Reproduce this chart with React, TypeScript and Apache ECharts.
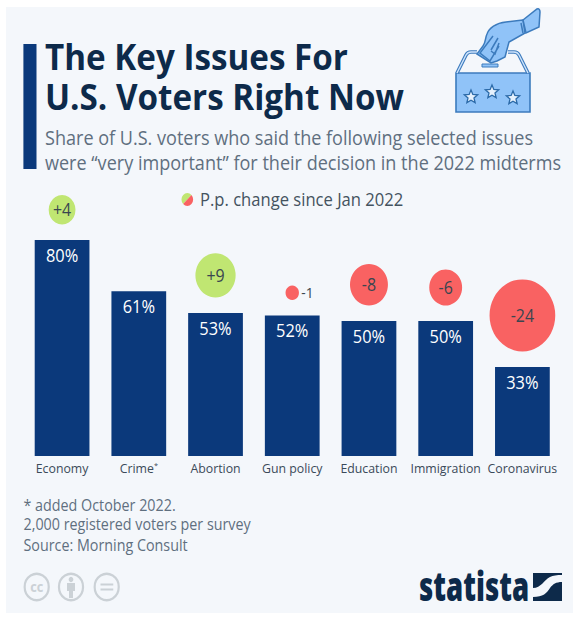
import React, { useEffect, useRef } from "react";
import * as echarts from "echarts";

// Survey shares and percentage-point changes per issue
const categories = ["Economy", "Crime*", "Abortion", "Gun policy", "Education", "Immigration", "Coronavirus"];
const shares = [80, 61, 53, 52, 50, 50, 33];
const changes = [4, null, 9, -1, -8, -6, -24];

const titleLines = ["The Key Issues For", "U.S. Voters Right Now"];
const subtitleLines = [
  "Share of U.S. voters who said the following selected issues",
  "were \u201cvery important\u201d for their decision in the 2022 midterms",
];
const legendLabel = "P.p. change since Jan 2022";
const footerLines = ["* added October 2022.", "2,000 registered voters per survey", "Source: Morning Consult"];

// The canvas is laid out wider than the window and narrowed with a CSS transform
const SQUEEZE = 0.9124;
const CANVAS_WIDTH = 628;
const CANVAS_HEIGHT = 617;
const sx = (x: number) => x / SQUEEZE;

const NAVY = "#0b397b";
const INK = "#0d2a4a";
const GREY = "#5f6f7f";
const GREEN = "#c0e672";
const RED = "#f96262";
const PANEL = "#f4f7fb";
const ICON_FILL = "#90c3f8";
const ICON_LINE = "#3c7bbd";
const FONT = "'Open Sans', sans-serif";

const bubbleDiameter = (change: number) => 14.7 * Math.sqrt(Math.abs(change));
const BUBBLE_GAP = 15.5;

const shapes: Record<string, string> = {
  voteHand: "M523 20 L506 22 C496 23 489 28 487 34 C485 38 486 42 483 46 L477 54 L491 63 L497 61 L505 57 L509 42 L525 33 Z",
  voteCuff: "M523 20 L537 9 C539 8 540 10 540 12 L539 27 L526 33 Z",
  voteFolds: "M521 23 L523 33 M493 36 L480 53 L490 61 L499 46 M491 51 L495 54 L499 43 M498 38 L491 50",
  voteFlaps: "M457 73 L466 55 C467 53 468 52 471 52 L477 52 M528 73 L519 55 C518 53 517 52 514 52 L508 52",
  voteBox: "M456 73 L530 73 L530 112 L456 112 Z",
  voteSlot: "M482 64 L498 64 L498 67 L482 67 Z",
  logoGap: "M533 588 C541 588 544 580 550 577 C553 575.5 557 575 562 575 L562 582 C556 582 553 584 550 588 C547 593 543 597 533 597 Z",
  ccPerson: "M67 583 L75 583 L75 591 L73 591 L73 598 L69 598 L69 591 L67 591 Z",
};
Object.entries(shapes).forEach(([name, d]) => {
  echarts.graphic.registerShape(name, echarts.graphic.extendPath(d, {}) as any);
});

const starPoints = (cx: number, cy: number, r: number) => {
  const pts: number[][] = [];
  for (let i = 0; i < 10; i++) {
    const radius = i % 2 === 0 ? r : r * 0.45;
    const a = -Math.PI / 2 + (i * Math.PI) / 5;
    pts.push([cx + radius * Math.cos(a), cy + radius * Math.sin(a)]);
  }
  return pts;
};

// Places a text by its baseline: the renderer anchors "middle" on the central baseline
const textEl = (x: number, baseline: number, text: string, fontSize: number, fill: string, fontWeight: any = 400) => ({
  type: "text",
  x: sx(x),
  y: baseline - 0.388 * fontSize,
  silent: true,
  style: { text, fontSize, fontWeight, fill, fontFamily: FONT, verticalAlign: "middle" },
});

const iconGroup = {
  type: "group",
  scaleX: 1 / SQUEEZE,
  silent: true,
  children: [
    { type: "voteBox", style: { fill: ICON_FILL, stroke: ICON_LINE, lineWidth: 1.6 } },
    { type: "voteFlaps", style: { fill: "none", stroke: ICON_LINE, lineWidth: 3.6 } },
    { type: "voteFlaps", style: { fill: "none", stroke: "#cfe4fb", lineWidth: 1.4 } },
    { type: "voteHand", style: { fill: ICON_FILL, stroke: ICON_LINE, lineWidth: 1.5 } },
    { type: "voteCuff", style: { fill: ICON_FILL, stroke: ICON_LINE, lineWidth: 1.5 } },
    { type: "voteFolds", style: { fill: "none", stroke: ICON_LINE, lineWidth: 1.5 } },
    { type: "voteSlot", style: { fill: ICON_FILL, stroke: ICON_LINE, lineWidth: 1 } },
    ...[[471, 97], [492, 92], [513, 98]].map(([cx, cy]) => ({
      type: "polygon",
      shape: { points: starPoints(cx, cy, 7) },
      style: { fill: "#e6f1fd", stroke: "#2c6aa8", lineWidth: 1.3 },
    })),
  ],
};

const logoGroup = {
  type: "group",
  scaleX: 1 / SQUEEZE,
  silent: true,
  children: [
    { type: "rect", shape: { x: 533, y: 573, width: 29, height: 28 }, style: { fill: INK } },
    { type: "logoGap", style: { fill: PANEL } },
  ],
};

const licenceIcons = {
  type: "group",
  silent: true,
  children: [
    ...[36.7, 71, 106.7].map((x) => ({
      type: "circle",
      shape: { cx: sx(x), cy: 587, r: 13.2 },
      style: { fill: "none", stroke: "#cbd1d6", lineWidth: 2.4 },
    })),
    {
      type: "text",
      x: sx(36.7),
      y: 587,
      style: { text: "cc", fontSize: 14, fontWeight: 700, fill: "#cbd1d6", fontFamily: FONT, align: "center", verticalAlign: "middle" },
    },
    { type: "circle", shape: { cx: sx(71), cy: 579.5, r: 2.6 }, style: { fill: "#cbd1d6" } },
    { type: "group", scaleX: 1 / SQUEEZE, children: [{ type: "ccPerson", style: { fill: "#cbd1d6" } }] },
    { type: "rect", shape: { x: sx(100.5), y: 583.5, width: 14, height: 2 }, style: { fill: "#cbd1d6" } },
    { type: "rect", shape: { x: sx(100.5), y: 588.5, width: 14, height: 2 }, style: { fill: "#cbd1d6" } },
  ],
};

const legendSwatch = {
  type: "group",
  silent: true,
  children: [
    {
      type: "sector",
      shape: { cx: sx(187.3), cy: 199.5, r: 6.4, r0: 0, startAngle: (3 * Math.PI) / 4, endAngle: (7 * Math.PI) / 4 },
      style: { fill: GREEN },
    },
    {
      type: "sector",
      shape: { cx: sx(187.3), cy: 199.5, r: 6.4, r0: 0, startAngle: -Math.PI / 4, endAngle: (3 * Math.PI) / 4 },
      style: { fill: RED },
    },
  ],
};

// Change bubbles sit a fixed distance above their bar; the area encodes the change
const renderBubble = (_params: any, api: any) => {
  const change = api.value(2);
  if (change === null || change === undefined || Number.isNaN(change)) return null;
  const [cx, barTop] = api.coord([api.value(0), api.value(1)]);
  const d = bubbleDiameter(change);
  const r = d / 2;
  const cy = barTop - BUBBLE_GAP - r;
  const label = change > 0 ? `+${change}` : `${change}`;
  const small = d < 20;
  return {
    type: "group",
    children: [
      { type: "circle", shape: { cx, cy, r }, style: { fill: change > 0 ? GREEN : RED } },
      {
        type: "text",
        x: small ? cx + r + 2.5 : cx,
        y: cy - 0.5,
        style: {
          text: label,
          fontSize: small ? 15 : 17.5,
          fill: "#3a4650",
          fontFamily: FONT,
          align: small ? "left" : "center",
          verticalAlign: "middle",
        },
      },
    ],
  };
};

export default function App() {
  const ref = useRef<HTMLDivElement>(null);

  useEffect(() => {
    document.body.style.margin = "0";
    const chart = echarts.init(ref.current!, undefined, { renderer: "svg" });
    chart.setOption({
      animation: false,
      backgroundColor: "#ffffff",
      grid: { left: 26, width: 588.6, top: 240, height: 216, containLabel: false },
      xAxis: {
        type: "category",
        data: categories,
        axisLine: { show: false },
        axisTick: { show: false },
        axisLabel: {
          interval: 0,
          margin: 5,
          fontSize: 13.5,
          color: "#3b4a59",
          fontFamily: FONT,
          formatter: (v: string) => (v.endsWith("*") ? `${v.slice(0, -1)}{sup|*}` : v),
          rich: { sup: { fontSize: 8, color: "#3b4a59", fontFamily: FONT, padding: [0, 0, 5, 0] } },
        },
      },
      yAxis: { type: "value", min: 0, max: 80, show: false, splitLine: { show: false } },
      graphic: [
        { type: "rect", z: -10, shape: { x: sx(6), y: 7, width: CANVAS_WIDTH, height: 606 }, style: { fill: PANEL }, silent: true },
        { type: "rect", shape: { x: sx(23.4), y: 44, width: sx(13.1), height: 125 }, style: { fill: NAVY }, silent: true },
        textEl(45, 70, titleLines[0], 36.4, INK, 700),
        textEl(45, 110, titleLines[1], 36.4, INK, 700),
        textEl(45, 145, subtitleLines[0], 19.8, GREY),
        textEl(45, 170, subtitleLines[1], 19.8, GREY),
        legendSwatch,
        textEl(200, 205.5, legendLabel, 18.2, "#44535f"),
        textEl(23.5, 510.5, footerLines[0], 15.7, GREY),
        textEl(23.5, 530, footerLines[1], 15.7, GREY),
        textEl(23.5, 551, footerLines[2], 15.7, GREY),
        iconGroup,
        licenceIcons,
        {
          type: "text",
          x: sx(419),
          y: 601 - 0.388 * 41,
          scaleX: 0.74,
          silent: true,
          style: { text: "statista", fontSize: 41, fontWeight: 800, fill: INK, fontFamily: FONT, verticalAlign: "middle" },
        },
        logoGroup,
      ],
      series: [
        {
          type: "bar",
          data: shares,
          barWidth: 60,
          itemStyle: { color: NAVY },
          label: {
            show: true,
            position: "insideTop",
            distance: 6,
            formatter: "{c}%",
            color: "#ffffff",
            fontSize: 18,
            fontFamily: FONT,
          },
        },
        {
          type: "custom",
          renderItem: renderBubble,
          data: categories.map((_, i) => [i, shares[i], changes[i]]),
          encode: { x: 0, y: 1 },
          silent: true,
          z: 5,
        },
      ],
    });
    return () => chart.dispose();
  }, []);

  return (
    <div style={{ width: 573, height: CANVAS_HEIGHT, overflow: "hidden" }}>
      <div
        ref={ref}
        style={{
          width: CANVAS_WIDTH,
          height: CANVAS_HEIGHT,
          transform: `scaleX(${SQUEEZE})`,
          transformOrigin: "0 0",
        }}
      />
    </div>
  );
}
